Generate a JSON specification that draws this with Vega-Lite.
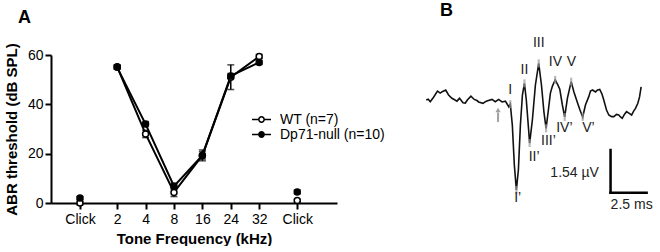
{
  "$schema": "https://vega.github.io/schema/vega-lite/v6.json",
  "padding": {"left": 4, "top": 2, "right": 0, "bottom": 0},
  "background": "white",
  "bounds": "flush",
  "spacing": 82,
  "config": {
    "view": {"stroke": null},
    "font": "Liberation Sans",
    "axis": {
      "domainColor": "black", "domainWidth": 2, "tickColor": "black", "tickWidth": 2, "tickSize": 6,
      "labelFontSize": 14, "labelColor": "black", "labelFont": "Liberation Sans",
      "titleFontSize": 15, "titleFontWeight": "bold", "titleColor": "black", "titleFont": "Liberation Sans",
      "grid": false
    },
    "title": {"font": "Liberation Sans", "color": "black"}
  },
  "datasets": {
    "abr": [
      {"series": "WT (n=7)", "freq": "Click", "pos": -1.31, "mean": 0, "lo": -0.8, "hi": 0.8},
      {"series": "WT (n=7)", "freq": "2", "pos": 0, "mean": 55.2, "lo": 54.4, "hi": 56},
      {"series": "WT (n=7)", "freq": "4", "pos": 1, "mean": 28, "lo": 26.5, "hi": 29.5},
      {"series": "WT (n=7)", "freq": "8", "pos": 2, "mean": 4.3, "lo": 2.6, "hi": 6},
      {"series": "WT (n=7)", "freq": "16", "pos": 3, "mean": 19.3, "lo": 17.1, "hi": 21.5},
      {"series": "WT (n=7)", "freq": "24", "pos": 4, "mean": 51, "lo": 46, "hi": 56},
      {"series": "WT (n=7)", "freq": "32", "pos": 5, "mean": 59.4, "lo": 58.6, "hi": 60.2},
      {"series": "WT (n=7)", "freq": "Click", "pos": 6.34, "mean": 1, "lo": 0.5, "hi": 1.5},
      {"series": "Dp71-null (n=10)", "freq": "Click", "pos": -1.31, "mean": 2, "lo": 1.4, "hi": 2.6},
      {"series": "Dp71-null (n=10)", "freq": "2", "pos": 0, "mean": 55, "lo": 54.2, "hi": 55.8},
      {"series": "Dp71-null (n=10)", "freq": "4", "pos": 1, "mean": 32, "lo": 31, "hi": 33},
      {"series": "Dp71-null (n=10)", "freq": "8", "pos": 2, "mean": 6.8, "lo": 5.6, "hi": 8},
      {"series": "Dp71-null (n=10)", "freq": "16", "pos": 3, "mean": 19.3, "lo": 17.8, "hi": 20.8},
      {"series": "Dp71-null (n=10)", "freq": "24", "pos": 4, "mean": 51.5, "lo": 50.5, "hi": 52.5},
      {"series": "Dp71-null (n=10)", "freq": "32", "pos": 5, "mean": 57, "lo": 56.2, "hi": 57.8},
      {"series": "Dp71-null (n=10)", "freq": "Click", "pos": 6.34, "mean": 4.5, "lo": 3.7, "hi": 5.3}
    ],
    "trace": [
      {"t": 0, "v": -0.02}, {"t": 0.14, "v": 0.01}, {"t": 0.28, "v": -0.08}, {"t": 0.51, "v": 0.08},
      {"t": 0.78, "v": 0.30}, {"t": 0.97, "v": 0.23}, {"t": 1.11, "v": 0.28}, {"t": 1.35, "v": 0.34},
      {"t": 1.55, "v": 0.16}, {"t": 1.78, "v": 0.04}, {"t": 1.94, "v": 0.00}, {"t": 2.13, "v": -0.06},
      {"t": 2.31, "v": 0.04}, {"t": 2.55, "v": -0.12}, {"t": 2.71, "v": -0.13}, {"t": 2.85, "v": -0.02},
      {"t": 3.10, "v": 0.12}, {"t": 3.33, "v": 0.00}, {"t": 3.52, "v": -0.04}, {"t": 3.63, "v": -0.09},
      {"t": 3.94, "v": -0.14}, {"t": 4.10, "v": -0.08}, {"t": 4.26, "v": -0.05}, {"t": 4.56, "v": 0.00},
      {"t": 4.79, "v": -0.08}, {"t": 5.02, "v": 0.00}, {"t": 5.26, "v": -0.09}, {"t": 5.49, "v": -0.06},
      {"t": 5.65, "v": -0.20}, {"t": 5.73, "v": -0.27}, {"t": 5.83, "v": -0.17}, {"t": 5.97, "v": -0.92},
      {"t": 6.11, "v": -2.36}, {"t": 6.25, "v": -3.26}, {"t": 6.39, "v": -2.54}, {"t": 6.53, "v": -0.92},
      {"t": 6.67, "v": 0.16}, {"t": 6.81, "v": 0.58}, {"t": 6.94, "v": -0.02}, {"t": 7.17, "v": -1.57},
      {"t": 7.36, "v": -0.74}, {"t": 7.57, "v": 0.52}, {"t": 7.80, "v": 1.30}, {"t": 7.99, "v": 0.52},
      {"t": 8.16, "v": -0.45}, {"t": 8.31, "v": -1.04}, {"t": 8.47, "v": -0.38}, {"t": 8.61, "v": 0.23},
      {"t": 8.75, "v": 0.48}, {"t": 8.94, "v": 0.70}, {"t": 9.10, "v": 0.55}, {"t": 9.26, "v": 0.37},
      {"t": 9.44, "v": -0.20}, {"t": 9.60, "v": -0.63}, {"t": 9.79, "v": 0.05}, {"t": 10.05, "v": 0.64},
      {"t": 10.24, "v": 0.27}, {"t": 10.47, "v": -0.09}, {"t": 10.66, "v": -0.38}, {"t": 10.85, "v": -0.63},
      {"t": 11.04, "v": -0.20}, {"t": 11.27, "v": 0.10}, {"t": 11.39, "v": 0.30}, {"t": 11.53, "v": 0.34},
      {"t": 11.74, "v": 0.27}, {"t": 11.88, "v": 0.34}, {"t": 12.03, "v": 0.36}, {"t": 12.19, "v": 0.19},
      {"t": 12.31, "v": -0.02}, {"t": 12.50, "v": -0.38}, {"t": 12.66, "v": -0.56}, {"t": 12.85, "v": -0.62},
      {"t": 13.01, "v": -0.62}, {"t": 13.19, "v": -0.54}, {"t": 13.35, "v": -0.56}, {"t": 13.47, "v": -0.63},
      {"t": 13.59, "v": -0.68}, {"t": 13.75, "v": -0.53}, {"t": 13.89, "v": -0.44}, {"t": 14.10, "v": -0.51},
      {"t": 14.24, "v": -0.56}, {"t": 14.38, "v": -0.42}, {"t": 14.51, "v": -0.32}, {"t": 14.67, "v": -0.14},
      {"t": 14.79, "v": 0.09}, {"t": 14.90, "v": 0.45}
    ],
    "peaks": [
      {"t": 5.83, "v": -0.17}, {"t": 6.25, "v": -3.26}, {"t": 6.81, "v": 0.58}, {"t": 7.17, "v": -1.57},
      {"t": 7.80, "v": 1.30}, {"t": 8.31, "v": -1.04}, {"t": 8.94, "v": 0.70}, {"t": 9.60, "v": -0.63},
      {"t": 10.05, "v": 0.64}, {"t": 10.85, "v": -0.63}
    ],
    "labels": [
      {"t": 5.83, "v": 0.34, "label": "I"},
      {"t": 6.81, "v": 1.06, "label": "II"},
      {"t": 7.80, "v": 2.03, "label": "III"},
      {"t": 8.96, "v": 1.35, "label": "IV"},
      {"t": 10.07, "v": 1.35, "label": "V"},
      {"t": 6.34, "v": -3.53, "label": "I’"},
      {"t": 7.48, "v": -2.07, "label": "II’"},
      {"t": 8.47, "v": -1.50, "label": "III’"},
      {"t": 9.58, "v": -1.01, "label": "IV’"},
      {"t": 11.25, "v": -1.01, "label": "V’"},
      {"t": 10.29, "v": -2.65, "label": "1.54 µV"},
      {"t": 14.24, "v": -3.79, "label": "2.5 ms"}
    ],
    "scalebar": [
      {"t": 12.78, "t2": 12.78, "v": -3.36, "v2": -1.82},
      {"t": 12.78, "t2": 15.28, "v": -3.36, "v2": -3.36}
    ],
    "arrow": [{"t": 4.98, "v": -0.81, "v2": -0.47}],
    "arrowhead": [{"t": 4.98, "v": -0.38}]
  },
  "hconcat": [
    {
      "width": 286,
      "height": 148,
      "title": {"text": "A", "anchor": "start", "frame": "group", "fontSize": 18, "fontWeight": "bold", "dx": -33, "offset": 16},
      "data": {"name": "abr"},
      "encoding": {
        "x": {
          "field": "pos", "type": "quantitative",
          "scale": {"domain": [-2.33, 7.74], "nice": false, "zero": false},
          "axis": {
            "values": [-1.31, 0, 1, 2, 3, 4, 5, 6.34],
            "labelExpr": "datum.value < -1 || datum.value > 6 ? 'Click' : ['2','4','8','16','24','32'][datum.value]",
            "title": "Tone Frequency (kHz)", "labelPadding": 3, "titlePadding": 5, "labelFlush": false, "labelOverlap": false
          }
        }
      },
      "layer": [
        {
          "mark": {"type": "rule", "color": "black", "strokeWidth": 1.5},
          "encoding": {
            "y": {"field": "lo", "type": "quantitative", "scale": {"domain": [0, 60], "nice": false}, "title": "ABR threshold (dB SPL)", "axis": {"values": [0, 20, 40, 60], "labelPadding": 2, "titlePadding": 8}},
            "y2": {"field": "hi"}
          }
        },
        {
          "mark": {"type": "tick", "orient": "horizontal", "color": "black", "size": 7, "thickness": 1.5},
          "encoding": {"y": {"field": "lo", "type": "quantitative", "title": "ABR threshold (dB SPL)"}}
        },
        {
          "mark": {"type": "tick", "orient": "horizontal", "color": "black", "size": 7, "thickness": 1.5},
          "encoding": {"y": {"field": "hi", "type": "quantitative", "title": "ABR threshold (dB SPL)"}}
        },
        {
          "transform": [{"filter": "datum.freq != 'Click'"}],
          "mark": {"type": "line", "color": "black", "strokeWidth": 2},
          "encoding": {
            "y": {"field": "mean", "type": "quantitative", "title": "ABR threshold (dB SPL)"},
            "detail": {"field": "series", "type": "nominal"}
          }
        },
        {
          "mark": {"type": "point", "shape": "circle", "filled": true, "stroke": "black", "strokeWidth": 1.5, "size": 36, "opacity": 1},
          "encoding": {
            "y": {"field": "mean", "type": "quantitative", "title": "ABR threshold (dB SPL)"},
            "fill": {
              "field": "series", "type": "nominal",
              "scale": {"domain": ["WT (n=7)", "Dp71-null (n=10)"], "range": ["white", "black"]},
              "legend": {
                "title": null, "orient": "none", "legendX": 200, "legendY": 57,
                "symbolType": "M-1,0H-0.28M0.28,0H1M0.28,0A0.28,0.28,0,1,1,-0.28,0A0.28,0.28,0,1,1,0.28,0Z",
                "symbolSize": 361, "symbolStrokeColor": "black", "symbolStrokeWidth": 1.5, "symbolOpacity": 1,
                "labelFontSize": 14, "labelColor": "black", "labelFont": "Liberation Sans", "labelOffset": 8,
                "clipHeight": 15, "rowPadding": 0, "labelLimit": 200
              }
            }
          }
        }
      ]
    },
    {
      "width": 238,
      "height": 150,
      "title": {"text": "B", "anchor": "start", "frame": "group", "fontSize": 18, "fontWeight": "bold", "dx": 21, "offset": 16},
      "encoding": {
        "x": {"field": "t", "type": "quantitative", "scale": {"domain": [-0.5, 16], "nice": false, "zero": false}, "axis": null},
        "y": {"field": "v", "type": "quantitative", "scale": {"domain": [-3.8, 1.6], "nice": false, "zero": false}, "axis": null}
      },
      "layer": [
        {"data": {"name": "trace"}, "mark": {"type": "line", "color": "#111111", "strokeWidth": 1.6}},
        {"data": {"name": "peaks"}, "mark": {"type": "tick", "orient": "vertical", "color": "#9a9a9a", "size": 8, "thickness": 2.2}},
        {
          "data": {"name": "labels"},
          "mark": {"type": "text", "fontSize": 14, "color": "#222222", "align": "center", "baseline": "middle", "font": "Liberation Sans"},
          "encoding": {"text": {"field": "label", "type": "nominal"}}
        },
        {
          "data": {"name": "scalebar"},
          "mark": {"type": "rule", "color": "black", "strokeWidth": 2.5, "strokeCap": "square"},
          "encoding": {"x2": {"field": "t2"}, "y2": {"field": "v2"}}
        },
        {
          "data": {"name": "arrow"},
          "mark": {"type": "rule", "color": "#a0a0a0", "strokeWidth": 2},
          "encoding": {"y2": {"field": "v2"}}
        },
        {
          "data": {"name": "arrowhead"},
          "mark": {"type": "point", "shape": "triangle-up", "filled": true, "color": "#a0a0a0", "size": 28, "opacity": 1}
        }
      ]
    }
  ]
}
